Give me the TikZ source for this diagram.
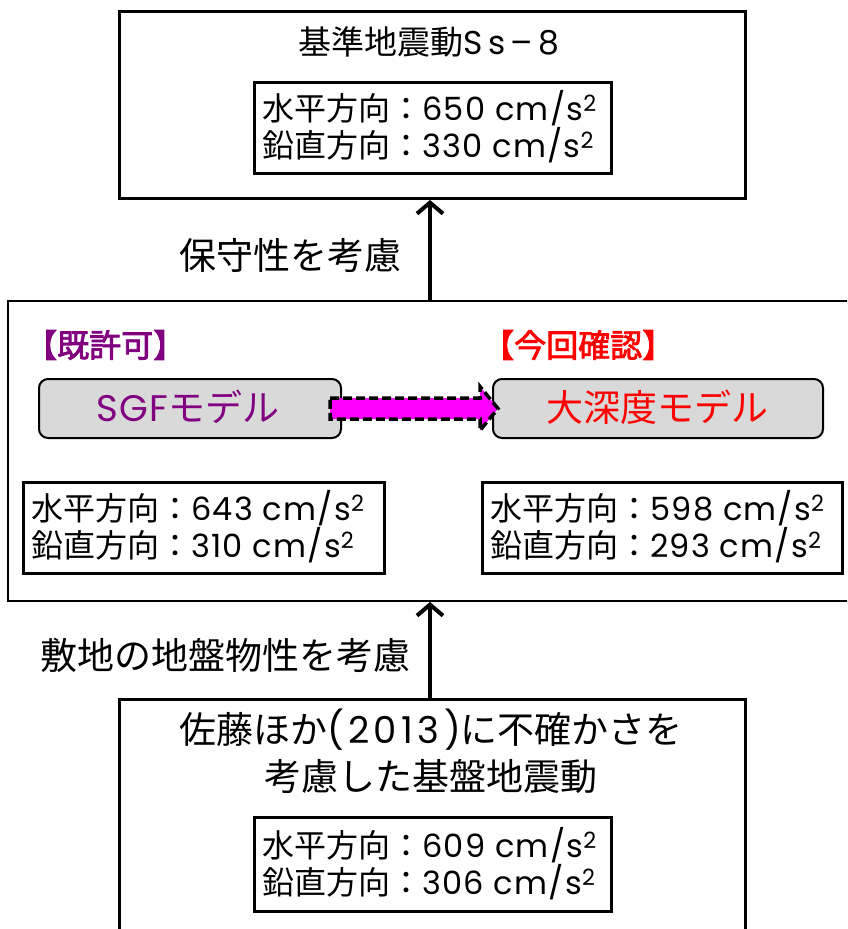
\documentclass[tikz,border=0pt]{standalone}
\usepackage{fontspec}
\setmainfont{Noto Sans CJK JP}
\newfontfamily\latfont[LetterSpace=4]{Poppins}
\newfontfamily\latwide[LetterSpace=12]{Poppins}
\newfontfamily\latwider[LetterSpace=16]{Poppins}
\newfontfamily\cjkmed[FakeBold=2.5]{Noto Sans CJK JP}
\usetikzlibrary{arrows.meta,calc}
\definecolor{mpurple}{RGB}{128,0,128}
\definecolor{mred}{RGB}{255,0,0}
\definecolor{mmag}{RGB}{255,0,255}
\definecolor{mgray}{RGB}{217,217,217}
\newcommand{\fs}[1]{\fontsize{#1}{#1}\selectfont}
\newcommand{\la}[1]{{\latfont #1}}
\newcommand{\lw}[1]{{\latwide #1}}
\newcommand{\lww}[1]{{\latwider #1}}
\tikzset{
  x=1pt,y=1pt,
  bigbox/.style={draw,line width=3pt,inner sep=0pt,anchor=north west},
  valbox/.style={draw,line width=3pt,inner sep=0pt,anchor=north west,align=left},
  valtext/.style={font=\fs{32},align=left,anchor=west,inner sep=0pt},
  model/.style={draw,line width=2pt,rounded corners=9pt,fill=mgray,inner sep=0pt,anchor=north west},
  uparrow/.style={line width=4pt,-{Straight Barb[length=11pt,width=26pt,line width=4pt]}},
  lbl/.style={font=\fs{37},inner sep=0pt},
}
\begin{document}
\begin{tikzpicture}
\useasboundingbox (0,0) rectangle (847,-929);
\begin{scope}
\clip (0,0) rectangle (847,-929);
% top box
\node[bigbox,minimum width=626pt,minimum height=187pt] (top) at (118,-10) {};
\node[lbl,font=\fs{33}] (toptitle) at (429,-42) {基準地震動\lww{Ss–8}};
\node[valbox,minimum width=357pt,minimum height=91pt] (topval) at (253,-81) {};
\node[valtext] (topv1) at (262,-108) {水平方向：\la{650 cm/s\textsuperscript{2}}};
\node[valtext] (topv2) at (262,-145) {鉛直方向：\la{330 cm/s\textsuperscript{2}}};
% middle box
\node[draw,line width=2pt,inner sep=0pt,anchor=north west,minimum width=850pt,minimum height=300pt] (mid) at (7,-300) {};
\node[lbl,anchor=west,text=mpurple,font=\fs{32}\cjkmed] (kyoka) at (25,-345) {【既許可】};
\node[lbl,anchor=west,text=mred,font=\fs{32}\cjkmed] (konkai) at (482,-345) {【今回確認】};
\node[model,minimum width=302pt,minimum height=59pt] (sgf) at (38,-378) {};
\node[lbl,text=mpurple,font=\fs{37}] (sgft) at (188,-407) {\la{SGF}モデル};
\node[model,minimum width=330pt,minimum height=59pt] (deep) at (492,-378) {};
\node[lbl,text=mred,font=\fs{37}] (deept) at (657,-407) {大深度モデル};
\node[valbox,minimum width=361pt,minimum height=91pt] (lval) at (22,-481) {};
\node[valtext] (lv1) at (31,-508) {水平方向：\la{643 cm/s\textsuperscript{2}}};
\node[valtext] (lv2) at (31,-545) {鉛直方向：\la{310 cm/s\textsuperscript{2}}};
\node[valbox,minimum width=360pt,minimum height=91pt] (rval) at (481,-481) {};
\node[valtext] (rv1) at (490,-508) {水平方向：\la{598 cm/s\textsuperscript{2}}};
\node[valtext] (rv2) at (490,-545) {鉛直方向：\la{293 cm/s\textsuperscript{2}}};
% dashed magenta arrow
\coordinate (A) at ($(sgf.east)+(-12,0)$);
\coordinate (B) at ($(deep.west)+(6,0)$);
\draw[fill=mmag,line width=3.5pt,dash pattern=on 9pt off 4pt,line join=miter]
  ($(A)+(0,10.5)$) -- ($(B)+(-18,10.5)$) -- ($(B)+(-18,22)$) -- (B)
  -- ($(B)+(-18,-22)$) -- ($(B)+(-18,-10.5)$) -- ($(A)+(0,-10.5)$) -- cycle;
% bottom box
\node[bigbox,minimum width=626pt,minimum height=250pt] (bot) at (118,-698) {};
\node[lbl,align=center,font=\fs{37}] (bottitle) at (431,-751) {佐藤ほか\lw{(2013)}に不確かさを\\[8pt]考慮した基盤地震動};
\node[valbox,minimum width=357pt,minimum height=94pt] (botval) at (253,-816) {};
\node[valtext] (bv1) at (262,-845) {水平方向：\la{609 cm/s\textsuperscript{2}}};
\node[valtext] (bv2) at (262,-882) {鉛直方向：\la{306 cm/s\textsuperscript{2}}};
% vertical arrows
\coordinate (m1) at (mid.north -| 430,0);
\coordinate (t1) at (top.south -| 430,0);
\draw[uparrow] (m1) -- (t1);
\coordinate (b1) at (bot.north -| 430,0);
\coordinate (m2) at (mid.south -| 430,0);
\draw[uparrow] (b1) -- (m2);
\node[lbl,anchor=east] (hoshu) at (402,-255) {保守性を考慮};
\node[lbl,anchor=east] (shikichi) at (411,-655) {敷地の地盤物性を考慮};
\end{scope}
\end{tikzpicture}
\end{document}
